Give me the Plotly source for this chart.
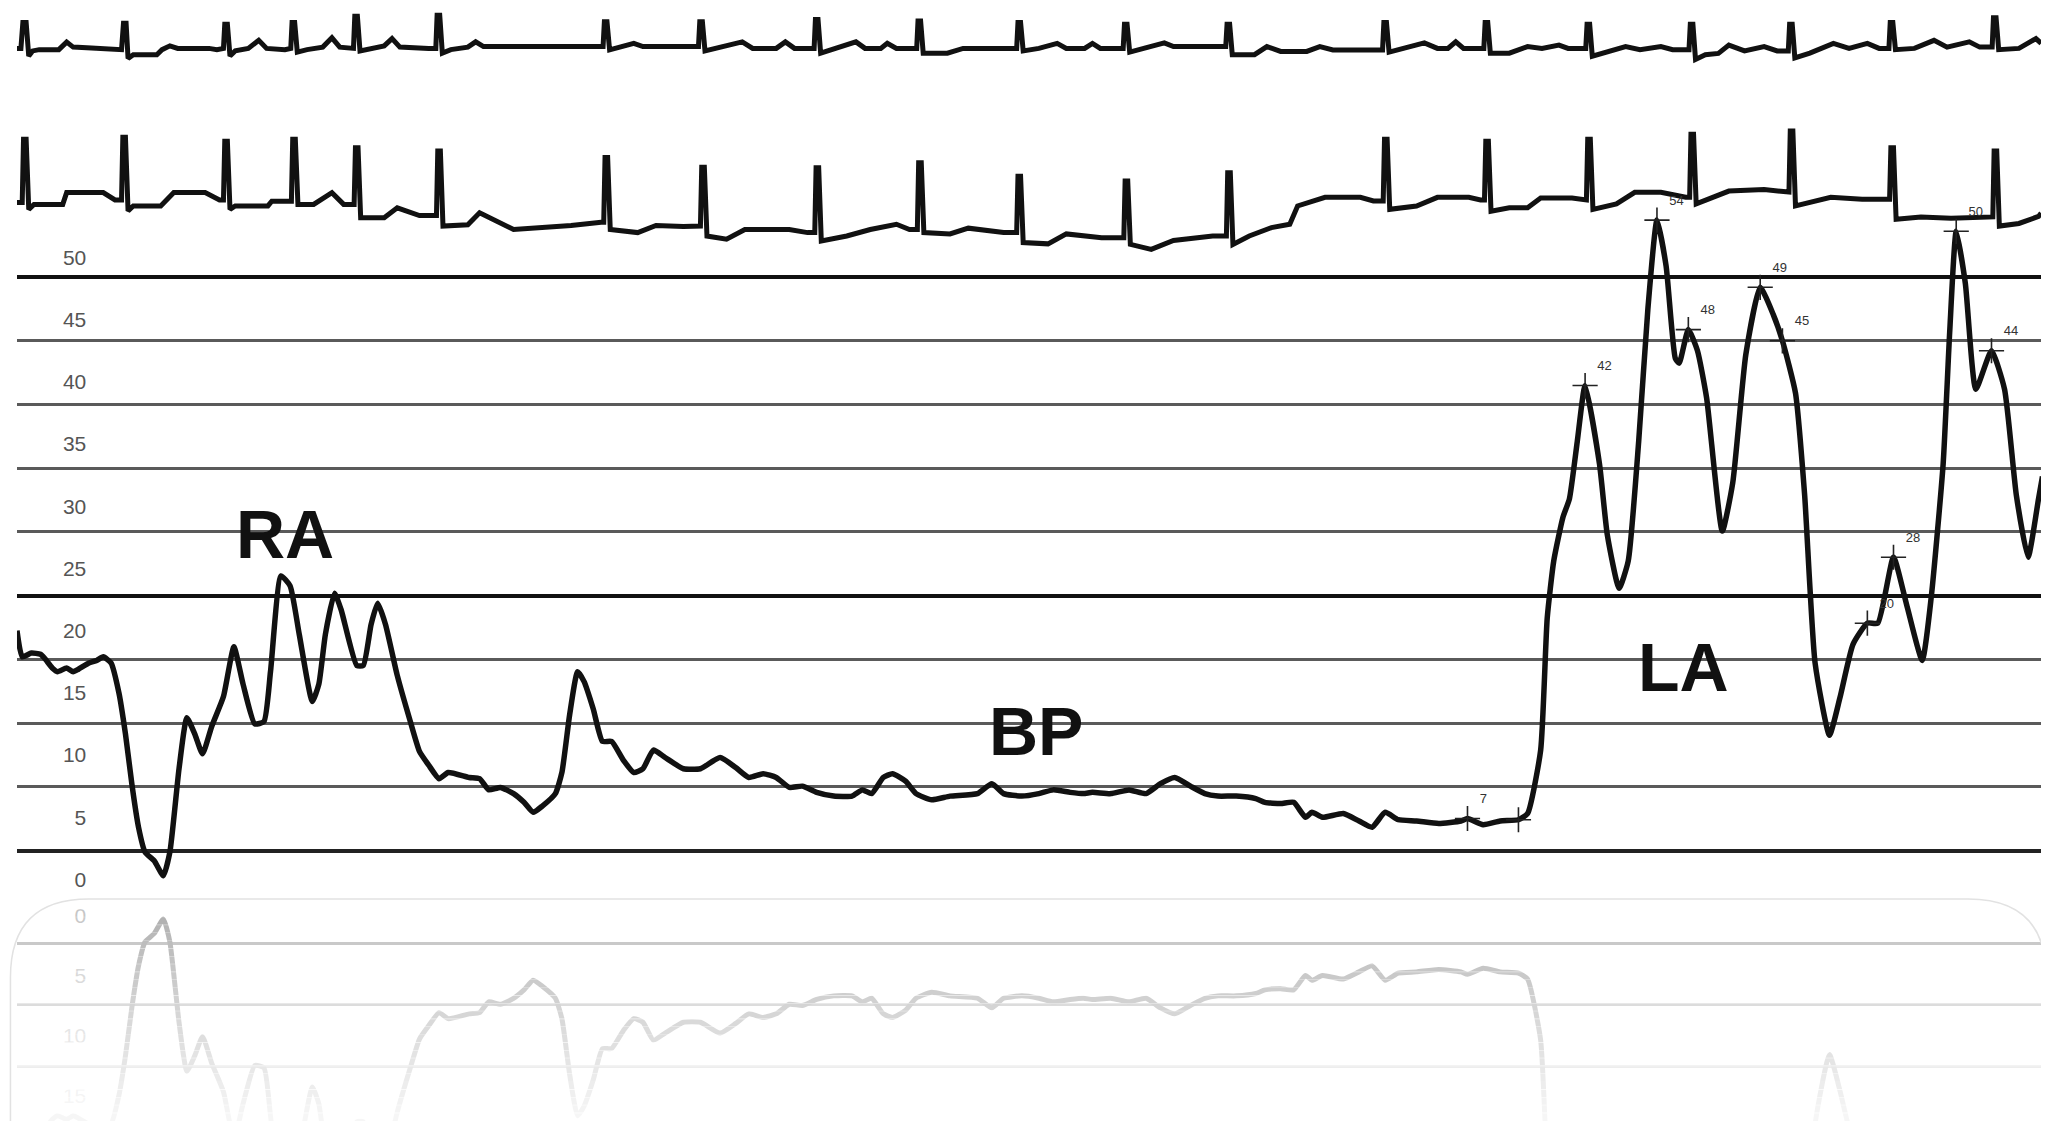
import plotly.graph_objects as go

# ---------------- data ----------------
# Pressure tracing (mmHg) against time (sample units along the strip)
pressure_t = [13,17,24,31,34,40,44,51,56,60,68,74,79,85,91,96,101,106,111,118,125,130,137,143,149,155,162,171,179,186,
              195,202,207,215,222,229,239,244,249,256,261,273,278,284,289,295,304,314,321,328,336,343,359,367,374,383,393,401,408,415,
              425,430,436,442,447,454,461,468,477,485,492,500,509,523,536,
              551,563,573,584,594,604,614,625,638,652,660,667,676,683,693,701,713,727,748,759,768,782,795,806,819,829,836,850,864,877,
              888,899,911,922,932,946,961,968,980,990,999,1004,1012,1028,1040,1050,1060,1070,1084,1101,1118,1123,1135,1148,1162,1169,
              1179,1184,1189,1196,1201,1207,1213,1224,1230,1239,1246,1254,1261,1268,1275,1282,1285,1292,1299,1306,
              1318,1326,1336,1347,1357,1364,1374,1381,1389,1400,1408,1418,1429,1437,1449,1459,1471,1478,1487,1492,
              1497,1504,1512,1524,1534,1543,1552,1560,1563]
pressure_mmHg = [20.0,17.9,18.2,18.1,17.8,17.0,16.7,17.0,16.7,16.9,17.4,17.6,17.9,17.4,15.0,11.7,7.6,4.2,2.2,1.5,
                 0.3,2.2,8.9,13.0,11.7,10.1,12.3,14.7,18.7,15.7,12.5,12.7,16.7,24.4,23.6,19.7,14.3,15.7,19.7,23.0,
                 21.7,17.2,17.2,20.5,22.2,20.5,16.4,12.7,10.3,9.2,8.1,8.6,8.2,8.1,7.2,7.4,6.9,6.2,5.4,5.9,
                 6.9,8.6,13.3,16.7,15.9,13.7,11.1,11.1,9.6,8.6,8.9,10.4,9.8,8.9,8.9,
                 9.8,9.0,8.2,8.5,8.2,7.4,7.5,7.0,6.7,6.7,7.2,6.9,8.2,8.5,7.9,6.9,6.4,6.7,6.9,7.7,
                 6.9,6.7,6.9,7.2,7.0,6.9,7.0,6.9,7.2,6.9,7.7,8.2,7.5,6.9,6.7,6.7,6.5,6.2,6.1,6.2,
                 5.0,5.4,5.0,5.3,4.7,4.2,5.4,4.8,4.7,4.5,4.7,4.9,4.4,4.7,4.8,5.3,
                 10.4,21.0,25.6,29.1,30.6,35.2,39.7,33.4,27.7,23.4,25.6,35.2,45.8,53.0,49.3,41.9,41.5,44.2,42.5,38.7,
                 28.0,31.9,42.2,47.6,45.4,43.3,39.1,30.9,17.4,11.6,14.6,18.9,20.6,20.6,25.9,22.1,17.6,22.8,33.4,44.0,
                 52.1,47.9,39.4,42.5,39.4,30.9,25.9,30.6,32.4]
assert len(pressure_t) == len(pressure_mmHg)

# Measured peak marks on the tracing
mark_t = [1123, 1162, 1213, 1268, 1292, 1347, 1364, 1429, 1449, 1497, 1524]
mark_mmHg = [4.9, 4.8, 39.7, 53.0, 44.2, 47.6, 43.3, 20.6, 25.9, 52.1, 42.5]
mark_text = ["7", "", "42", "54", "48", "49", "45", "20", "28", "50", "44"]

# Chamber labels
chamber_names = ["RA", "BP", "LA"]
chamber_t = [218, 793, 1288]
chamber_mmHg = [27.8, 11.9, 17.1]

# Pressure scale tick labels
pressure_ticks = [0, 5, 10, 15, 20, 25, 30, 35, 40, 45, 50]
reflect_ticks = [0, 5, 10, 15]

# ECG lead (top), (time, mV)
ecg_top = [
    (13,0.0),(16,0.0),(17.5,1.03),(20,1.03),(22,-0.3),(25,-0.1),(30,-0.05),(45,-0.05),(51,0.25),(56,0.05),(70,0.02),(82,0.0),(88,-0.05),
    (93,-0.05),(94.5,1.0),(96.5,1.0),(98,-0.4),(102,-0.25),(120,-0.25),(124,-0.05),(130,0.1),(136,0.0),(160,0.0),(166,-0.05),
    (171,0.0),(172,0.96),(174,0.96),(176,-0.3),(180,-0.1),(190,0.0),(198,0.32),(204,0.0),(218,-0.05),
    (222.5,0.0),(223.5,1.03),(225.5,1.03),(227.5,-0.15),(235,-0.05),(247,0.05),(254,0.42),(260,0.05),(268,0.0),
    (270.5,0.0),(271.5,1.28),(273.5,1.28),(275.5,-0.1),(285,0.0),(294,0.1),(300,0.39),(306,0.05),(328,0.0),
    (333.5,0.0),(334.5,1.32),(336.5,1.32),(338.5,-0.19),(345,-0.05),(358,0.05),(364,0.26),(370,0.07),(457,0.07),
    (461.5,0.07),(462.5,1.06),(464.5,1.06),(466.5,-0.06),(475,0.05),(485,0.2),(492,0.07),(530,0.07),
    (534.5,0.07),(535.5,1.06),(537.5,1.06),(539.5,-0.1),(548,0.0),(568,0.26),(576,0.0),(594,0.0),(601,0.26),(608,0.0),(620,0.0),
    (623,0.0),(624,1.15),(626,1.15),(628,-0.19),(640,0.0),(655,0.26),(662,0.0),(674,0.0),(679,0.2),(686,0.0),(699,0.0),
    (701.5,0.0),(702.5,1.09),(704.5,1.09),(706.5,-0.19),(725,-0.19),(737,0.0),(775,0.0),
    (778,0.0),(779,1.03),(781,1.03),(783,-0.1),(795,0.0),(809,0.2),(816,0.0),(830,0.0),(836,0.2),(842,0.0),(856,0.0),
    (859.5,0.0),(860.5,0.96),(862.5,0.96),(864.5,-0.15),(875,0.0),(891,0.22),(898,0.07),(935,0.07),
    (938,0.07),(939,0.96),(941,0.96),(943,-0.25),(960,-0.25),(969.5,0.07),(980,-0.12),(1000,-0.12),(1010,0.07),(1020,-0.06),(1054,-0.06),
    (1058,-0.06),(1059,1.03),(1061,1.03),(1063,-0.15),(1075,0.0),(1090,0.22),(1100,0.0),(1108,0.0),(1114,0.26),(1120,0.0),(1133,0.0),
    (1135.5,0.0),(1136.5,1.03),(1138.5,1.03),(1140.5,-0.19),(1155,-0.19),(1169,0.07),(1180,0.0),(1193,0.13),(1200,0.0),(1211,0.0),
    (1213.5,0.0),(1214.5,0.96),(1216.5,0.96),(1218.5,-0.31),(1230,-0.12),(1244,0.07),(1255,-0.05),(1271,0.07),(1280,-0.05),(1290,-0.05),
    (1292.5,-0.05),(1293.5,0.96),(1295.5,0.96),(1297.5,-0.44),(1305,-0.25),(1315,-0.2),(1323,0.13),(1335,-0.1),(1350,0.07),(1360,-0.1),(1367,-0.1),
    (1368.5,-0.1),(1369.5,0.96),(1371.5,0.96),(1373.5,-0.38),(1385,-0.19),(1403,0.2),(1415,0.0),(1429,0.2),(1438,0.0),(1444,0.0),
    (1445.5,0.0),(1446.5,1.03),(1448.5,1.03),(1450.5,-0.05),(1465,0.0),(1480,0.32),(1490,0.05),(1507,0.26),(1515,0.05),(1523,0.05),
    (1524.5,0.05),(1525.5,1.22),(1527.5,1.22),(1529.5,-0.05),(1545,0.0),(1558,0.39),(1562,0.2)]

# ECG lead (second), (time, mV)
ecg_second = [
    (13,0.0),(17,0.0),(18,2.42),(20,2.42),(22,-0.26),(26,-0.07),(48,-0.07),(51,0.38),(79,0.38),(88,0.1),(93,0.1),
    (94,2.5),(96,2.5),(98,-0.32),(102,-0.13),(123,-0.13),(133,0.38),(157,0.38),(168,0.1),
    (171,0.1),(172,2.35),(174,2.35),(176,-0.26),(180,-0.13),(205,-0.13),(208,0.05),(220,0.05),
    (223,0.05),(224,2.42),(226,2.42),(228,-0.07),(240,-0.07),(254,0.38),(263,-0.07),(270,-0.07),
    (271,-0.07),(272,2.1),(274,2.1),(276,-0.58),(294,-0.58),(304,-0.2),(321,-0.5),(332,-0.5),
    (334,-0.5),(335,1.97),(337,1.97),(339,-0.9),(358,-0.85),(367,-0.39),(393,-1.03),(437,-0.88),(454,-0.75),(460,-0.75),
    (462,-0.75),(463,1.72),(465,1.72),(467,-1.03),(488,-1.15),(502,-0.88),(523,-0.92),(533,-0.9),
    (536,-0.9),(537,1.35),(539,1.35),(541,-1.28),(556,-1.4),(570,-1.03),(604,-1.03),(618,-1.15),(622,-1.15),
    (623.5,-1.15),(624.5,1.33),(626.5,1.33),(628.5,-1.47),(648,-1.28),(666,-1.03),(686,-0.83),(696,-1.03),(700,-1.03),
    (702,-1.03),(703,1.52),(705,1.52),(707,-1.15),(727,-1.2),(741,-0.98),(768,-1.15),(776,-1.15),
    (778,-1.15),(779,1.01),(781,1.01),(783,-1.53),(802,-1.58),(816,-1.2),(843,-1.35),(857,-1.35),
    (860,-1.35),(861,0.82),(863,0.82),(865,-1.6),(881,-1.79),(898,-1.45),(928,-1.28),(937,-1.28),
    (938.5,-1.28),(939.5,1.14),(941.5,1.14),(943.5,-1.6),(956,-1.28),(973,-0.96),(987,-0.83),(993,-0.13),(1014,0.2),(1041,0.2),(1051,0.06),(1056,0.06),
    (1058.5,0.06),(1059.5,2.42),(1061.5,2.42),(1063.5,-0.26),(1084,-0.13),(1100,0.2),(1124,0.2),(1133,0.1),
    (1136,0.1),(1137,2.35),(1139,2.35),(1141,-0.33),(1155,-0.2),(1169,-0.2),(1179,0.17),(1203,0.17),(1212,0.1),
    (1214,0.1),(1215,2.42),(1217,2.42),(1219,-0.26),(1237,-0.05),(1251,0.39),(1271,0.39),(1290,0.2),
    (1293,0.2),(1294,2.61),(1296,2.61),(1298,-0.05),(1323,0.44),(1350,0.5),(1366,0.4),
    (1369,0.4),(1370,2.74),(1372,2.74),(1374,-0.13),(1401,0.2),(1425,0.13),(1443,0.13),
    (1446,0.13),(1447,2.1),(1449,2.1),(1451,-0.64),(1470,-0.55),(1493,-0.6),(1517,-0.55),(1523,-0.55),
    (1525,-0.55),(1526,1.97),(1528,1.97),(1530,-0.9),(1545,-0.8),(1560,-0.53),(1562,-0.4)]

ecg_top_t, ecg_top_mv = zip(*ecg_top)
ecg_second_t, ecg_second_mv = zip(*ecg_second)

# ---------------- figure ----------------
# The page body has an 8px margin, so the figure is made 8px smaller and
# all layout fractions are computed relative to the offset figure.
PAGE_W, PAGE_H, BODY = 2049, 1121, 8
W, H = PAGE_W - BODY, PAGE_H - BODY
SW, SH = 1568.0, 858.0          # layout reference frame
SC = PAGE_W / SW


def fx(x):
    return (x * SC - BODY) / W


def fy(y):
    return 1 - (y * SC - BODY) / H


INK = "#111111"
FONT = "Liberation Sans, Arial, sans-serif"

fig = go.Figure()

fig.add_trace(go.Scatter(x=ecg_top_t, y=ecg_top_mv, xaxis="x", yaxis="y", mode="lines",
                         line=dict(color=INK, width=5), hoverinfo="skip"))
fig.add_trace(go.Scatter(x=ecg_second_t, y=ecg_second_mv, xaxis="x", yaxis="y2", mode="lines",
                         line=dict(color=INK, width=5), hoverinfo="skip"))
# empty traces so the grid-only axes get their subplots
for ax in ["y4", "y5", "y7"]:
    fig.add_trace(go.Scatter(x=[], y=[], xaxis="x", yaxis=ax, mode="lines", hoverinfo="skip"))

fig.add_trace(go.Scatter(x=pressure_t, y=pressure_mmHg, xaxis="x", yaxis="y3", mode="lines",
                         line=dict(color=INK, width=5.5, shape="spline", smoothing=0.5), hoverinfo="skip"))
fig.add_trace(go.Scatter(x=mark_t, y=mark_mmHg, xaxis="x", yaxis="y3", mode="markers+text",
                         marker=dict(symbol="cross-thin", size=18, line=dict(color="#222", width=1.6)),
                         text=mark_text, textposition="top right", cliponaxis=False,
                         textfont=dict(family=FONT, size=13, color="#333"), hoverinfo="skip"))
# reflection
fig.add_trace(go.Scatter(x=pressure_t, y=pressure_mmHg, xaxis="x", yaxis="y6", mode="lines",
                         line=dict(color="#6f6f6f", width=5, shape="spline", smoothing=0.5), hoverinfo="skip"))

# geometry (in the 1568x858 reference frame)
x_left, x_right = 13.0, 1562.0
p_top, p_bot = 165.0, 690.0                  # pressure panel
lab0_y, lab_px = 673.0, 9.52                 # label scale: y = 673 - 9.52*v
grid0_y, grid_px = 651.0, 9.756              # printed grid: y = 651 - 9.756*g
mirror = 687.0

lab_range = [(lab0_y - p_bot) / lab_px, (lab0_y - p_top) / lab_px]
grid_range = [(grid0_y - p_bot) / grid_px, (grid0_y - p_top) / grid_px]
r_top, r_bot = p_bot, SH + BODY / SC
rl0 = 2 * mirror - lab0_y
rg0 = 2 * mirror - grid0_y
rlab_range = [(r_bot - rl0) / lab_px, (r_top - rl0) / lab_px]
rgrid_range = [(r_bot - rg0) / grid_px, (r_top - rg0) / grid_px]

hidden = dict(visible=False, showgrid=False, zeroline=False, fixedrange=True)
tickfont = dict(family=FONT, size=21, color="#555555")

fig.update_layout(
    width=W, height=H, margin=dict(l=0, r=0, t=0, b=0),
    paper_bgcolor="white", plot_bgcolor="rgba(0,0,0,0)", showlegend=False,
    xaxis=dict(domain=[fx(x_left), fx(x_right)], range=[x_left, x_right], **hidden),
    yaxis=dict(domain=[fy(64), fy(6.2)], range=[-1.4, 1.6], **hidden),
    yaxis2=dict(domain=[fy(202), fy(92)], range=[-2.35, 3.15], **hidden),
    yaxis3=dict(domain=[fy(p_bot), fy(p_top)], range=lab_range, anchor="free", position=fx(66),
                tickmode="array", tickvals=pressure_ticks, ticktext=[str(v) for v in pressure_ticks],
                showgrid=False, zeroline=False, showline=False, ticks="", tickfont=tickfont),
    yaxis4=dict(overlaying="y3", anchor="x", range=grid_range, tickmode="array",
                tickvals=[0, 5, 10, 15, 20, 25, 30, 35, 40, 45], showticklabels=False,
                showgrid=True, gridcolor="#5a5a5a", gridwidth=2.5, zeroline=False, showline=False, ticks=""),
    yaxis5=dict(overlaying="y3", anchor="x", range=grid_range, tickmode="array",
                tickvals=[20, 45], showticklabels=False,
                showgrid=True, gridcolor="#111111", gridwidth=4, zeroline=False, showline=False, ticks=""),
    yaxis6=dict(domain=[0, fy(r_top)], range=rlab_range, anchor="free", position=fx(66),
                tickmode="array", tickvals=reflect_ticks, ticktext=[str(v) for v in reflect_ticks],
                showgrid=False, zeroline=False, showline=False, ticks="",
                tickfont=dict(family=FONT, size=21, color="#9a9a9a")),
    yaxis7=dict(overlaying="y6", anchor="x", range=rgrid_range, tickmode="array",
                tickvals=[0, 5, 10, 15], showticklabels=False,
                showgrid=True, gridcolor="#8a8a8a", gridwidth=2.5, zeroline=False, showline=False, ticks=""),
)
# darker bottom line of the printed grid
fig.update_layout(yaxis4_zeroline=True, yaxis4_zerolinecolor="#222222", yaxis4_zerolinewidth=3.5)

# chamber labels
for name, t, v in zip(chamber_names, chamber_t, chamber_mmHg):
    fig.add_annotation(x=t, y=v, xref="x", yref="y3", text="<b>%s</b>" % name, showarrow=False,
                       xanchor="center", yanchor="middle",
                       font=dict(family=FONT, size=68, color=INK))

# fading of the reflection (stepped white veil)
n_bands = 28
top = fy(r_top)
for i in range(n_bands):
    y1 = top * (1 - i / n_bands)
    y0 = top * (1 - (i + 1) / n_bands)
    a = 0.40 + 0.54 * (i / (n_bands - 1)) ** 0.8
    fig.add_shape(type="rect", xref="paper", yref="paper", x0=0, x1=1, y0=y0, y1=y1 + 0.0005,
                  fillcolor="rgba(255,255,255,%.3f)" % a, line=dict(width=0), layer="above")

# faint rounded frame around the reflection
xl, xr = fx(8), fx(1566)
yt = fy(688)
rx, ry = 60 * SC / W, 60 * SC / H
path = (f"M {xl},0 L {xl},{yt - ry} Q {xl},{yt} {xl + rx},{yt} "
        f"L {xr - rx},{yt} Q {xr},{yt} {xr},{yt - ry} L {xr},0")
fig.add_shape(type="path", xref="paper", yref="paper", path=path,
              line=dict(color="#e2e2e2", width=1.5), layer="above")

fig.write_html("out.html")
